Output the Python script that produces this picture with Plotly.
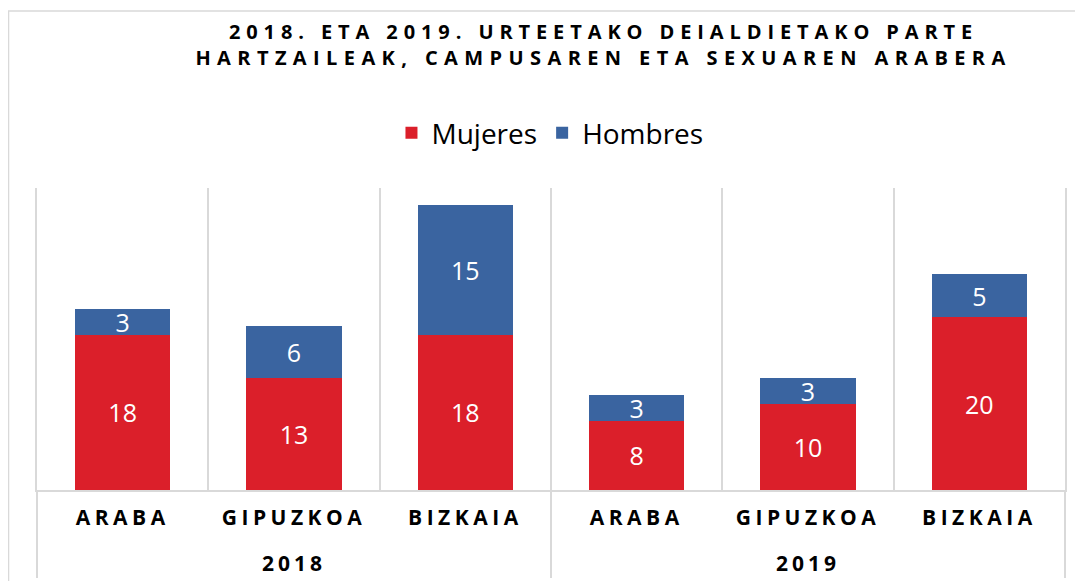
import plotly.graph_objects as go

years = ["2018", "2018", "2018", "2019", "2019", "2019"]
campus = ["ARABA", "GIPUZKOA", "BIZKAIA", "ARABA", "GIPUZKOA", "BIZKAIA"]
mujeres = [18, 13, 18, 8, 10, 20]
hombres = [3, 6, 15, 3, 3, 5]

title_lines = ["2018. ETA 2019. URTEETAKO DEIALDIETAKO PARTE",
               "HARTZAILEAK, CAMPUSAREN ETA SEXUAREN ARABERA"]

RED = "#DB1F2A"
BLUE = "#3A64A0"
GRID = "#D9D9D9"
FONT = "Open Sans"


def spaced(t, px, extra=""):
    return f'<span style="letter-spacing:{px}px{extra}">{t}</span>'


x = [[spaced(y, 4, ";baseline-shift:-24px") for y in years],
     [spaced(c, 4.5) for c in campus]]

fig = go.Figure()
for name, vals, col in [("Mujeres", mujeres, RED), ("Hombres", hombres, BLUE)]:
    fig.add_trace(go.Bar(
        x=x, y=vals, name=name,
        marker=dict(color=col, line=dict(width=0)),
        texttemplate="%{y}", textposition="inside", insidetextanchor="middle",
        textangle=0, constraintext="none",
        textfont=dict(family=FONT, size=25, color="white"),
        hoverinfo="skip",
    ))

fig.update_layout(
    width=1075, height=573,
    barmode="stack", bargap=0.445,
    paper_bgcolor="white", plot_bgcolor="white",
    margin=dict(l=29, r=18, t=180, b=91, autoexpand=False),
    font=dict(family=FONT, color="#000000"),
    title=dict(
        text="<b>" + spaced(title_lines[0], 5.9) + "<br>" + spaced(title_lines[1], 6.4) + "</b>",
        x=0.554, xanchor="center", yref="container", y=0.946, yanchor="top",
        font=dict(family=FONT, size=20, color="#000000"),
    ),
    legend=dict(
        orientation="h", x=0.499, xanchor="center", y=1.182, yanchor="middle",
        font=dict(family=FONT, size=28, color="#000000"),
        itemclick=False, itemdoubleclick=False, traceorder="normal",
    ),
    showlegend=True,
    shapes=[dict(type="rect", xref="paper", yref="paper",
                 x0=-0.0277, x1=1.05, y0=-0.35, y1=1.586,
                 line=dict(color=GRID, width=1.5), layer="below")],
)

fig.update_xaxes(
    type="multicategory", automargin=False, showgrid=True, gridcolor=GRID, gridwidth=2,
    showline=True, linecolor=GRID, linewidth=2,
    ticks="", ticklabelstandoff=8,
    tickfont=dict(family=FONT, size=21, color="#000000", weight="bold"),
    showdividers=True, dividercolor=GRID, dividerwidth=2,
)
fig.update_yaxes(
    range=[0, 35], automargin=False, showgrid=False, zeroline=False, showticklabels=False,
    showline=True, mirror=True, linecolor=GRID, linewidth=2, ticks="",
)

fig.write_html("out.html")
